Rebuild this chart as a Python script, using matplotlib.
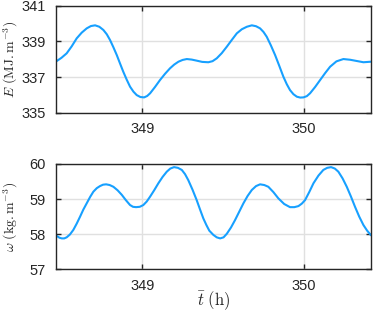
import matplotlib
matplotlib.use("Agg")
import matplotlib.pyplot as plt

# Energy E (MJ.m^-3) versus time (h)
t_E = [348.471, 348.500, 348.532, 348.563, 348.594, 348.625, 348.656, 348.682,
       348.708, 348.734, 348.759, 348.780, 348.800, 348.821, 348.842, 348.862,
       348.882, 348.903, 348.924, 348.945, 348.965, 348.988, 349.011, 349.030,
       349.048, 349.078, 349.109, 349.140, 349.171, 349.197, 349.223, 349.249,
       349.275, 349.305, 349.336, 349.370, 349.408, 349.434, 349.460, 349.491,
       349.522, 349.553, 349.584, 349.615, 349.646, 349.677, 349.703, 349.728,
       349.749, 349.769, 349.795, 349.821, 349.847, 349.872, 349.893, 349.913,
       349.934, 349.955, 349.976, 349.996, 350.017, 350.037, 350.068, 350.099,
       350.130, 350.161, 350.200, 350.243, 350.285, 350.326, 350.367, 350.412]
E = [337.90, 338.08, 338.33, 338.72, 339.17, 339.49, 339.73, 339.86,
     339.90, 339.82, 339.64, 339.40, 339.08, 338.67, 338.23, 337.76,
     337.30, 336.86, 336.46, 336.18, 335.99, 335.88, 335.86, 335.94,
     336.09, 336.44, 336.83, 337.18, 337.49, 337.70, 337.86, 337.96,
     338.01, 337.98, 337.92, 337.85, 337.83, 337.89, 338.05, 338.34,
     338.70, 339.08, 339.45, 339.68, 339.82, 339.90, 339.85, 339.73,
     339.53, 339.26, 338.77, 338.23, 337.62, 337.02, 336.60, 336.27,
     336.04, 335.90, 335.85, 335.86, 335.93, 336.09, 336.44, 336.83,
     337.22, 337.58, 337.88, 338.01, 337.97, 337.90, 337.83, 337.86]

# Density omega (kg.m^-3) versus time (h)
t_w = [348.471, 348.487, 348.502, 348.517, 348.532, 348.552, 348.573, 348.594,
       348.615, 348.635, 348.656, 348.677, 348.697, 348.718, 348.738, 348.757,
       348.776, 348.798, 348.821, 348.847, 348.873, 348.898, 348.924, 348.942,
       348.961, 348.984, 349.006, 349.027, 349.048, 349.073, 349.099, 349.125,
       349.151, 349.173, 349.196, 349.220, 349.244, 349.264, 349.284, 349.310,
       349.336, 349.357, 349.377, 349.396, 349.414, 349.439, 349.460, 349.481,
       349.502, 349.522, 349.548, 349.573, 349.599, 349.625, 349.651, 349.677,
       349.703, 349.728, 349.754, 349.779, 349.810, 349.841, 349.877, 349.913,
       349.940, 349.965, 349.986, 350.006, 350.032, 350.058, 350.089, 350.119,
       350.143, 350.167, 350.190, 350.212, 350.238, 350.264, 350.290, 350.315,
       350.341, 350.367, 350.390, 350.412]
w = [57.95, 57.90, 57.88, 57.88, 57.91, 57.99, 58.12, 58.30,
     58.50, 58.70, 58.88, 59.06, 59.21, 59.31, 59.37, 59.41,
     59.42, 59.40, 59.35, 59.25, 59.12, 58.97, 58.83, 58.78,
     58.77, 58.78, 58.83, 58.93, 59.07, 59.25, 59.45, 59.63,
     59.78, 59.87, 59.91, 59.89, 59.83, 59.71, 59.54, 59.27,
     58.97, 58.70, 58.45, 58.26, 58.10, 57.98, 57.91, 57.88,
     57.91, 58.01, 58.19, 58.40, 58.64, 58.88, 59.09, 59.26,
     59.37, 59.42, 59.40, 59.35, 59.20, 59.02, 58.86, 58.77,
     58.77, 58.80, 58.87, 58.97, 59.20, 59.45, 59.67, 59.83,
     59.89, 59.91, 59.87, 59.78, 59.59, 59.35, 59.07, 58.78,
     58.50, 58.26, 58.10, 57.98]

x_ticks = [349, 350]
E_ticks = [335, 337, 339, 341]
w_ticks = [57, 58, 59, 60]

plt.rcParams["font.family"] = ["Liberation Sans", "DejaVu Sans"]
plt.rcParams["mathtext.fontset"] = "cm"

LINE = "#17a0ff"
AXC = "#262626"


def style(ax):
    ax.grid(True, color="#e0e0e0", linewidth=1.0)
    ax.set_axisbelow(True)
    for s in ax.spines.values():
        s.set_color(AXC)
        s.set_linewidth(1.0)
    ax.tick_params(direction="in", length=3.5, width=1.0, color=AXC,
                   labelsize=10.5, labelcolor=AXC, top=True, right=True)
    ax.tick_params(axis="x", pad=7)
    ax.tick_params(axis="y", pad=7.5)
    ax.set_xlim(348.466, 350.412)
    ax.set_xticks(x_ticks)


fig = plt.figure(figsize=(3.74, 3.14), dpi=100)
ax1 = fig.add_axes([0.1497, 0.641, 0.8415, 0.3408])
ax2 = fig.add_axes([0.1497, 0.1424, 0.8415, 0.3354])

ax1.plot(t_E, E, color=LINE, linewidth=1.5)
style(ax1)
ax1.set_ylim(335, 341)
ax1.set_yticks(E_ticks)
ax1.set_ylabel(r"$E\ (\mathrm{MJ.m}^{-3})$", fontsize=10, color=AXC)
ax1.yaxis.set_label_coords(-0.114, 0.5)

ax2.plot(t_w, w, color=LINE, linewidth=1.5)
style(ax2)
ax2.set_ylim(57, 60)
ax2.set_yticks(w_ticks)
ax2.set_ylabel(r"$\omega\ (\mathrm{kg.m}^{-3})$", fontsize=10, color=AXC)
ax2.yaxis.set_label_coords(-0.114, 0.5)
ax2.set_xlabel(r"$\bar{t}\ (\mathrm{h})$", fontsize=12, color=AXC, labelpad=-2.5)

fig.savefig("out.png", dpi=100)
